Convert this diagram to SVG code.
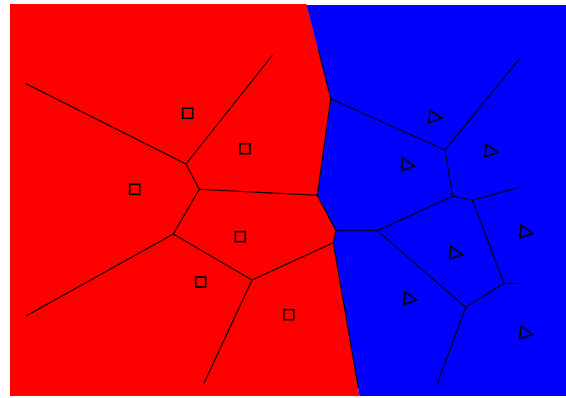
<svg xmlns="http://www.w3.org/2000/svg" xmlns:xlink="http://www.w3.org/1999/xlink" width="566" height="398" viewBox="0 0 566 398">
<style>
.edge{stroke:#000;stroke-width:1.1;fill:none}
.mk{stroke:#000;stroke-width:1.6;fill:none}
</style>
<defs>
<rect id="sq" x="-5" y="-5" width="10" height="10" class="mk"/>
<path id="tri" d="M-3.5,-7 L8.2,1.3 L-4.8,5.7 Z" class="mk"/>
</defs>
<rect x="0" y="0" width="566" height="398" fill="#fff"/>
<g id="red-region">
<polygon points="10,4 306.5,4 330.7,98.7 317.3,195.3 336,230.7 333.3,242.7 359.5,396 10,396" fill="#ff0000"/>
</g>
<g id="blue-region">
<polygon points="306.5,5 566,5 566,396 359.5,396 333.3,242.7 336,230.7 317.3,195.3 330.7,98.7" fill="#0000ff"/>
</g>
<g id="connectors">
<line class="edge" x1="25.5" y1="83.5" x2="186" y2="164"/>
<line class="edge" x1="272.5" y1="55" x2="186" y2="164"/>
<line class="edge" x1="186" y1="164" x2="199.3" y2="189.3"/>
<line class="edge" x1="199.3" y1="189.3" x2="317.3" y2="195.3"/>
<line class="edge" x1="199.3" y1="189.3" x2="173.3" y2="234"/>
<line class="edge" x1="173.3" y1="234" x2="26" y2="316"/>
<line class="edge" x1="173.3" y1="234" x2="252" y2="280"/>
<line class="edge" x1="252" y1="280" x2="333.3" y2="242.7"/>
<line class="edge" x1="252" y1="280" x2="204" y2="383.3"/>
<polyline class="edge" points="318.5,50 330.7,98.7 317.3,195.3 336,230.7 333.3,242.7 358.3,388"/>
<line class="edge" x1="330.7" y1="98.7" x2="445" y2="150"/>
<line class="edge" x1="445" y1="150" x2="520.7" y2="57.3"/>
<line class="edge" x1="445" y1="150" x2="452.7" y2="196"/>
<line class="edge" x1="452.7" y1="196" x2="472.3" y2="200.3"/>
<line class="edge" x1="472.3" y1="200.3" x2="520.7" y2="187"/>
<line class="edge" x1="452.7" y1="196" x2="377.3" y2="230.7"/>
<line class="edge" x1="377.3" y1="230.7" x2="336" y2="230.7"/>
<line class="edge" x1="472.3" y1="200.3" x2="504" y2="283.3"/>
<line class="edge" x1="504" y1="283.3" x2="520.7" y2="283.3"/>
<line class="edge" x1="504" y1="283.3" x2="465.7" y2="307.3"/>
<line class="edge" x1="377.3" y1="230.7" x2="465.7" y2="307.3"/>
<line class="edge" x1="465.7" y1="307.3" x2="436.7" y2="385"/>
</g>
<g id="squares">
<use xlink:href="#sq" x="187.7" y="113.3"/>
<use xlink:href="#sq" x="245" y="148.7"/>
<use xlink:href="#sq" x="134.7" y="189.3"/>
<use xlink:href="#sq" x="240.3" y="236.7"/>
<use xlink:href="#sq" x="200.7" y="282"/>
<use xlink:href="#sq" x="288.8" y="314.7"/>
</g>
<g id="triangles">
<use xlink:href="#tri" x="433.5" y="117"/>
<use xlink:href="#tri" x="489.8" y="151.1"/>
<use xlink:href="#tri" x="406.2" y="164.8"/>
<use xlink:href="#tri" x="454.3" y="253.4"/>
<use xlink:href="#tri" x="524.6" y="232.2"/>
<use xlink:href="#tri" x="408.7" y="298.9"/>
<use xlink:href="#tri" x="524.6" y="333.1"/>
</g>
</svg>
